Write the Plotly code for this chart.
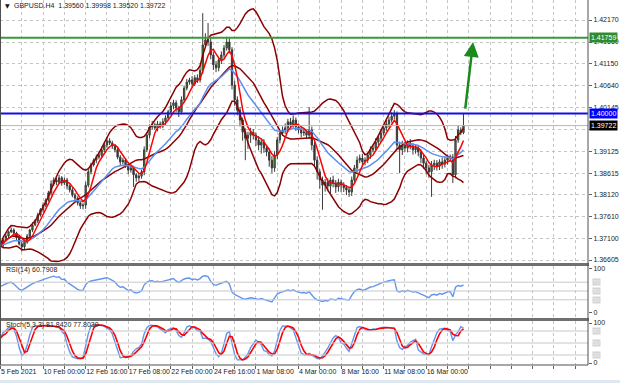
import plotly.graph_objects as go
import pandas as pd

# ---------------- data ----------------
title_text = "GBPUSD.H4  1.39560 1.39998 1.39520 1.39722"
rsi_title = "RSI(14) 60.7908"
stoch_title = "Stoch(5,3,3) 81.8420 77.8030"

first_open = 1.3690
closes = [
    1.3695, 1.3707, 1.3716, 1.3726, 1.3730, 1.3723, 1.3712, 1.3698, 1.3691, 1.3702,
    1.3716, 1.3730, 1.3742, 1.3751, 1.3765, 1.3777, 1.3788, 1.3800, 1.3816, 1.3837,
    1.3846, 1.3841, 1.3851, 1.3839, 1.3846, 1.3832, 1.3823, 1.3811, 1.3804, 1.3793,
    1.3786, 1.3788, 1.3834, 1.3865, 1.3881, 1.3892, 1.3899, 1.3904, 1.3916, 1.3927,
    1.3937, 1.3932, 1.3925, 1.3916, 1.3899, 1.3888, 1.3892, 1.3881, 1.3869, 1.3874,
    1.3858, 1.3851, 1.3855, 1.3865, 1.3916, 1.3950, 1.3969, 1.3974, 1.3967, 1.3976,
    1.3971, 1.3981, 1.3990, 1.4004, 1.4018, 1.4025, 1.4013, 1.4004, 1.4032, 1.4059,
    1.4073, 1.4078, 1.4069, 1.4083, 1.4078, 1.4100, 1.4159, 1.4171, 1.4166, 1.4136,
    1.4113, 1.4106, 1.4124, 1.4136, 1.4152, 1.4166, 1.4148, 1.4066, 1.4032, 1.4008,
    1.3985, 1.3957, 1.3943, 1.3950, 1.3957, 1.3950, 1.3939, 1.3927, 1.3934, 1.3920,
    1.3911, 1.3892, 1.3874, 1.3904, 1.3939, 1.3955, 1.3962, 1.3967, 1.3981, 1.3974,
    1.3985, 1.3969, 1.3962, 1.3955, 1.3957, 1.3950, 1.3962, 1.3927, 1.3892, 1.3865,
    1.3846, 1.3834, 1.3841, 1.3832, 1.3846, 1.3839, 1.3830, 1.3841, 1.3834, 1.3828,
    1.3823, 1.3818, 1.3846, 1.3874, 1.3892, 1.3897, 1.3888, 1.3892, 1.3904, 1.3916,
    1.3920, 1.3934, 1.3943, 1.3955, 1.3967, 1.3976, 1.3985, 1.3994, 1.3999, 1.3927,
    1.3916, 1.3927, 1.3920, 1.3932, 1.3925, 1.3916, 1.3920, 1.3911, 1.3897, 1.3885,
    1.3874, 1.3865, 1.3881, 1.3885, 1.3878, 1.3888, 1.3883, 1.3892, 1.3897, 1.3899,
    1.3858, 1.3939, 1.3962, 1.3956, 1.39722,
]
# wick lengths in pips above / below the candle body
wick_up = [
    6, 4, 5, 3, 6, 4, 3, 5, 4, 6,   5, 3, 6, 4, 5, 4, 6, 3, 5, 8,
    6, 5, 7, 4, 6, 5, 4, 6, 5, 4,   5, 4, 8, 6, 5, 4, 6, 5, 7, 5,
    9, 6, 5, 4, 7, 5, 6, 4, 5, 6,   5, 4, 6, 5, 8, 7, 6, 9, 5, 7,
    6, 8, 6, 5, 9, 7, 6, 5, 8, 6,   7, 5, 9, 6, 8, 12, 74, 15, 39, 10,
    8, 9, 6, 8, 7, 12, 9, 6, 10, 8,  7, 6, 9, 8, 10, 7, 6, 9, 8, 7,
    6, 8, 10, 9, 7, 6, 8, 10, 7, 9,  11, 6, 8, 9, 7, 6, 53, 8, 7, 9,
    6, 8, 7, 9, 6, 10, 7, 8, 6, 7,   6, 5, 8, 7, 9, 8, 10, 7, 6, 8,
    7, 9, 6, 8, 7, 10, 8, 9, 9, 6,   8, 10, 7, 6, 9, 7, 8, 6, 7, 9,
    6, 7, 9, 8, 7, 6, 10, 7, 8, 6,   7, 9, 10, 6, 27.6,
]
wick_dn = [
    5, 6, 4, 7, 3, 5, 6, 4, 11, 5,  4, 6, 5, 3, 5, 4, 6, 5, 4, 6,
    5, 7, 4, 6, 5, 8, 6, 5, 7, 6,   7, 8, 9, 5, 6, 4, 7, 5, 6, 5,
    6, 5, 7, 6, 5, 8, 6, 7, 9, 6,   28, 9, 7, 6, 8, 5, 7, 6, 5, 8,
    6, 5, 7, 6, 5, 8, 9, 12, 6, 7,  5, 6, 8, 5, 7, 6, 8, 5, 9, 10,
    12, 10, 8, 9, 7, 6, 8, 10, 14, 12,  15, 20, 51, 25, 18, 10, 14, 12, 20, 11,
    10, 15, 12, 9, 10, 8, 7, 9, 10, 8,  7, 9, 8, 10, 7, 9, 8, 12, 15, 18,
    20, 57, 15, 12, 18, 10, 14, 11, 16, 10,  12, 11, 9, 8, 10, 7, 9, 8, 7, 9,
    6, 8, 7, 9, 6, 7, 8, 6, 7, 10,  54, 12, 9, 10, 8, 11, 9, 10, 12, 13,
    15, 14, 58, 12, 10, 9, 11, 8, 10, 9,  19, 8, 7, 6, 4,
]
# average gain / loss (in price units) carried into the first visible bar (RSI ~ 59 at the left edge)
rsi_seed_gain = 0.00059
rsi_seed_loss = 0.00041

price_ticks = [1.42170, 1.41660, 1.41150, 1.40640, 1.40145, 1.39635,
               1.39125, 1.38615, 1.38120, 1.37610, 1.37100, 1.36605]
# 1.39635 sits under the black bid-price box in the picture, so its text is not shown
price_tick_text = ["1.42170", "1.41660", "1.41150", "1.40640", "1.40145", "",
                   "1.39125", "1.38615", "1.38120", "1.37610", "1.37100", "1.36605"]
time_labels = ["5 Feb 2021", "10 Feb 00:00", "12 Feb 16:00", "17 Feb 08:00",
               "22 Feb 00:00", "24 Feb 16:00", "1 Mar 08:00", "4 Mar 00:00",
               "8 Mar 16:00", "11 Mar 08:00", "16 Mar 00:00"]
bars_per_label = 16

resistance_level = 1.41759
key_level = 1.40000
last_price = 1.39722
arrow_from = (174.6, 1.4008)
arrow_to = (177.6, 1.4166)

rsi_levels = [30, 50, 70]
stoch_levels = [20, 50, 80]

# ---------------- build series ----------------
n = len(closes)
idx = list(range(n))
opens = [first_open] + closes[:-1]
highs = [max(o, c) + u * 0.0001 for o, c, u in zip(opens, closes, wick_up)]
lows = [min(o, c) - d * 0.0001 for o, c, d in zip(opens, closes, wick_dn)]

s = pd.Series(closes)
h = pd.Series(highs)
l = pd.Series(lows)
ma_fast = s.rolling(5, min_periods=1).mean()
ma_slow = s.ewm(span=20, adjust=False).mean()
bb_mid = s.rolling(20, min_periods=1).mean()
bb_sd = s.rolling(20, min_periods=1).std(ddof=0)
bb_up = bb_mid + 2 * bb_sd
bb_dn = bb_mid - 2 * bb_sd

# Wilder RSI(14)
rsi = []
ag, al = rsi_seed_gain, rsi_seed_loss
prev = first_open
for c in closes:
    d = c - prev
    ag = (ag * 13 + max(d, 0)) / 14
    al = (al * 13 + max(-d, 0)) / 14
    rsi.append(100 - 100 / (1 + ag / al))
    prev = c

ll = l.rolling(5, min_periods=1).min()
hh = h.rolling(5, min_periods=1).max()
num = (s - ll).rolling(3, min_periods=1).sum()
den = (hh - ll).rolling(3, min_periods=1).sum()
stoch_main = 100 * num / den
stoch_sig = stoch_main.rolling(3, min_periods=1).mean()

# ---------------- figure ----------------
W, H = 620, 383
PX_RIGHT = 588
def py(pix):  # pixel from top -> paper
    return 1 - pix / H

FONT = "Liberation Sans"
FS = 7
fig = go.Figure()

fig.add_trace(go.Candlestick(
    x=idx, open=opens, high=highs, low=lows, close=closes,
    increasing=dict(line=dict(color="#3a3a3a", width=1), fillcolor="#3c9c1c"),
    decreasing=dict(line=dict(color="#3a3a3a", width=1), fillcolor="#2a2a2a"),
    whiskerwidth=0, xaxis="x", yaxis="y", showlegend=False, hoverinfo="skip"))

for ser in (bb_up, bb_mid, bb_dn):
    fig.add_trace(go.Scatter(x=idx, y=ser, mode="lines",
                             line=dict(color="#8b0000", width=1.5),
                             xaxis="x", yaxis="y", showlegend=False))
fig.add_trace(go.Scatter(x=idx, y=ma_slow, mode="lines",
                         line=dict(color="#5b8ff0", width=1.5),
                         xaxis="x", yaxis="y", showlegend=False))
fig.add_trace(go.Scatter(x=idx, y=ma_fast, mode="lines",
                         line=dict(color="#ff0000", width=1.5),
                         xaxis="x", yaxis="y", showlegend=False))

fig.add_trace(go.Scatter(x=idx, y=rsi, mode="lines",
                         line=dict(color="#6495ed", width=1.4),
                         xaxis="x2", yaxis="y2", showlegend=False))
fig.add_trace(go.Scatter(x=idx, y=stoch_main, mode="lines",
                         line=dict(color="#6495ed", width=1.4),
                         xaxis="x3", yaxis="y3", showlegend=False))
fig.add_trace(go.Scatter(x=idx, y=stoch_sig, mode="lines",
                         line=dict(color="#ff0000", width=1.6),
                         xaxis="x3", yaxis="y3", showlegend=False))

x_range = [-0.2, 220.8]
grid_vals = list(range(0, 221, 8))
grid_text = []
for v in grid_vals:
    k = v // bars_per_label
    if v % bars_per_label == 0 and k < len(time_labels):
        grid_text.append(time_labels[k])
    else:
        grid_text.append("")

xcommon = dict(range=x_range, domain=[0, PX_RIGHT / W], showgrid=True,
               gridcolor="#c4c4c4", griddash="dot", gridwidth=1, automargin=False,
               zeroline=False, tickvals=grid_vals, fixedrange=True, showline=False)

main_top, main_bot = 0, 263
rsi_top, rsi_bot = 266, 318
st_top, st_bot = 321, 365

p_top = 1.426337
ppp = 1 / 4313.0
ycommon = dict(side="right", zeroline=False, ticks="outside", ticklen=3, automargin=False,
               tickcolor="#606060", tickfont=dict(family=FONT, size=FS, color="#222"),
               fixedrange=True, showline=False)

fig.update_layout(
    template="none",
    width=W, height=H, margin=dict(l=0, r=0, t=0, b=0, pad=0, autoexpand=False),
    paper_bgcolor="white", plot_bgcolor="white",
    font=dict(family=FONT, size=FS, color="#222"),
    xaxis=dict(**xcommon, anchor="y", showticklabels=False, rangeslider=dict(visible=False)),
    xaxis2=dict(**xcommon, anchor="y2", showticklabels=False, matches="x"),
    xaxis3=dict(**xcommon, anchor="y3", matches="x", ticktext=grid_text,
                ticks="outside", ticklen=3, tickcolor="#606060", tickangle=0,
                ticklabelposition="outside right",
                tickfont=dict(family=FONT, size=FS, color="#222")),
    yaxis=dict(**ycommon, domain=[py(main_bot), py(main_top)],
               range=[p_top - main_bot * ppp, p_top],
               tickvals=price_ticks, ticktext=price_tick_text,
               showgrid=True, gridcolor="#c4c4c4", griddash="dot"),
    yaxis2=dict(**ycommon, domain=[py(rsi_bot), py(rsi_top)],
                range=[-11.4, 106.8], tickvals=[0, 100], showgrid=False),
    yaxis3=dict(**ycommon, domain=[py(st_bot), py(st_top)],
                range=[-5, 105], tickvals=[0, 100], showgrid=False),
)

shapes = []
shapes.append(dict(type="line", xref="x domain", yref="y", x0=0, x1=1,
                   y0=last_price, y1=last_price, line=dict(color="#b8b8b8", width=1)))
shapes.append(dict(type="line", xref="x domain", yref="y", x0=0, x1=1,
                   y0=resistance_level, y1=resistance_level, line=dict(color="#3a9a3a", width=2)))
shapes.append(dict(type="line", xref="x domain", yref="y", x0=0, x1=1,
                   y0=key_level, y1=key_level, line=dict(color="#1010e0", width=2)))
for lv in rsi_levels:
    shapes.append(dict(type="line", xref="x2 domain", yref="y2", x0=0, x1=1,
                       y0=lv, y1=lv, line=dict(color="#c8c8c8", width=1)))
for lv in stoch_levels:
    shapes.append(dict(type="line", xref="x3 domain", yref="y3", x0=0, x1=1,
                       y0=lv, y1=lv, line=dict(color="#c8c8c8", width=1)))
for a, b in ((main_bot, rsi_top), (rsi_bot, st_top)):
    shapes.append(dict(type="rect", xref="paper", yref="paper", x0=0, x1=(PX_RIGHT + 1) / W,
                       y0=py(b), y1=py(a), fillcolor="#707070", line=dict(width=0)))
shapes.append(dict(type="line", xref="paper", yref="paper", x0=PX_RIGHT / W, x1=PX_RIGHT / W,
                   y0=py(st_bot), y1=1, line=dict(color="#505050", width=1)))
shapes.append(dict(type="line", xref="paper", yref="paper", x0=0, x1=PX_RIGHT / W,
                   y0=py(st_bot), y1=py(st_bot), line=dict(color="#505050", width=1)))
shapes.append(dict(type="line", xref="paper", yref="paper", x0=0.5 / W, x1=0.5 / W,
                   y0=py(st_bot), y1=1, line=dict(color="#505050", width=1)))
shapes.append(dict(type="rect", xref="paper", yref="paper", x0=0, x1=1,
                   y0=0, y1=py(380), fillcolor="#dfe7f1", line=dict(width=0)))
fig.update_layout(shapes=shapes)

ann = []
ann.append(dict(xref="paper", yref="paper", x=3 / W, y=py(6), xanchor="left", yanchor="middle",
                text="▼", showarrow=False, font=dict(family="DejaVu Sans", size=6, color="#111")))
ann.append(dict(xref="paper", yref="paper", x=12 / W, y=py(6), xanchor="left", yanchor="middle",
                text=title_text, showarrow=False,
                font=dict(family=FONT, size=FS, color="#222")))
ann.append(dict(xref="paper", yref="paper", x=4 / W, y=py(270), xanchor="left", yanchor="middle",
                text=rsi_title, showarrow=False, font=dict(family=FONT, size=FS, color="#222")))
ann.append(dict(xref="paper", yref="paper", x=4 / W, y=py(325), xanchor="left", yanchor="middle",
                text=stoch_title, showarrow=False, font=dict(family=FONT, size=FS, color="#222")))
ann.append(dict(xref="x", yref="y", axref="x", ayref="y",
                x=arrow_to[0], y=arrow_to[1], ax=arrow_from[0], ay=arrow_from[1],
                text="", showarrow=True, arrowhead=2, arrowsize=1.2, arrowwidth=2.5,
                arrowcolor="#1a8a1a"))
for val, bg in ((resistance_level, "#2e8b2e"), (key_level, "#0000ff"), (last_price, "#000000")):
    ann.append(dict(xref="paper", yref="y", x=(PX_RIGHT + 1) / W, y=val, xanchor="left",
                    yanchor="middle", text=f"{val:.5f}", showarrow=False,
                    bgcolor=bg, borderpad=1, font=dict(family=FONT, size=FS, color="white")))
for lv in rsi_levels:
    ann.append(dict(xref="paper", yref="y2", x=(PX_RIGHT + 4) / W, y=lv, xanchor="left",
                    yanchor="middle", text=str(lv), showarrow=False, bgcolor="#d4d4d4",
                    borderpad=0, font=dict(family=FONT, size=6, color="#f0f0f0")))
for lv in stoch_levels:
    ann.append(dict(xref="paper", yref="y3", x=(PX_RIGHT + 4) / W, y=lv, xanchor="left",
                    yanchor="middle", text=str(lv), showarrow=False, bgcolor="#d4d4d4",
                    borderpad=0, font=dict(family=FONT, size=6, color="#f0f0f0")))
fig.update_layout(annotations=ann)

fig.write_html("out.html", config={"displayModeBar": False, "staticPlot": True},
               post_script="document.body.style.margin='0';document.body.style.overflow='hidden';")
